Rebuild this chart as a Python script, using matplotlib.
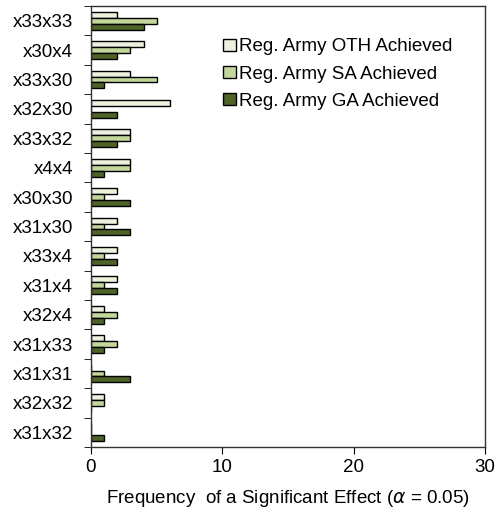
import numpy as np
import matplotlib
matplotlib.use("Agg")
import matplotlib.pyplot as plt
from matplotlib.ticker import FixedLocator

plt.rcParams['font.family'] = ['Liberation Sans', 'DejaVu Sans']

# categories listed bottom to top
pairs = ["x31x32", "x32x32", "x31x31", "x31x33", "x32x4", "x31x4", "x33x4",
         "x31x30", "x30x30", "x4x4", "x33x32", "x32x30", "x33x30", "x30x4", "x33x33"]
oth = [0, 1, 0, 1, 1, 2, 2, 2, 2, 3, 3, 6, 3, 4, 2]
sa = [0, 1, 1, 2, 2, 1, 1, 1, 1, 3, 3, 0, 5, 3, 5]
ga = [1, 0, 3, 1, 1, 2, 2, 3, 3, 1, 2, 2, 1, 2, 4]

fs = 13.5
fig = plt.figure(figsize=(4.96, 5.15), dpi=100)
ax = fig.add_axes([91 / 496, 1 - 447 / 515, 394 / 496, 441 / 515])

y = np.arange(len(pairs))
h = 0.2
ax.barh(y + h, oth, height=h, color="#EBF1DE", edgecolor="black", linewidth=1.0,
        label="Reg. Army OTH Achieved")
ax.barh(y, sa, height=h, color="#C3D69B", edgecolor="black", linewidth=1.0,
        label="Reg. Army SA Achieved")
ax.barh(y - h, ga, height=h, color="#4F6228", edgecolor="black", linewidth=1.0,
        label="Reg. Army GA Achieved")

ax.set_xlim(0, 30)
ax.set_ylim(-0.5, len(pairs) - 0.5)
ax.set_xticks([0, 10, 20, 30])
ax.set_yticks(y)
ax.set_yticklabels(pairs)
ax.tick_params(axis="y", which="major", length=0, pad=13, labelsize=fs)
ax.yaxis.set_minor_locator(FixedLocator(np.arange(len(pairs) + 1) - 0.5))
ax.tick_params(axis="y", which="minor", length=5, direction="out")
ax.tick_params(axis="x", length=5, direction="out", labelsize=fs)
for s in ax.spines.values():
    s.set_linewidth(1.0)
    s.set_color("#333333")

ax.set_xlabel("Frequency  of a Significant Effect ($\\alpha$ = 0.05)", fontsize=fs, labelpad=9)

ax.legend(loc="upper left", bbox_to_anchor=(0.335, 0.927), frameon=False, fontsize=fs,
          borderpad=0, borderaxespad=0,
          handlelength=0.7, handleheight=0.6, handletextpad=0.15, labelspacing=0.55)

fig.savefig("out.png", dpi=100)
